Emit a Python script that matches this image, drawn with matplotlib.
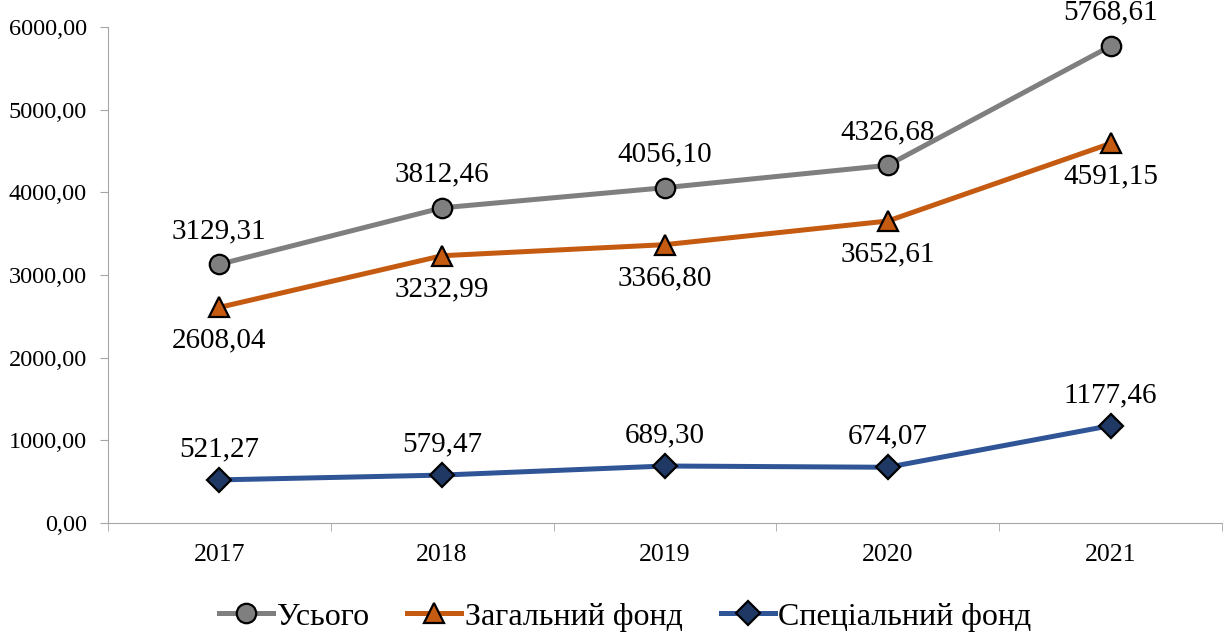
import numpy as np
import matplotlib.pyplot as plt

years = ['2017', '2018', '2019', '2020', '2021']
total = [3129.31, 3812.46, 4056.10, 4326.68, 5768.61]
general = [2608.04, 3232.99, 3366.80, 3652.61, 4591.15]
special = [521.27, 579.47, 689.30, 674.07, 1177.46]

plt.rcParams['font.family'] = ['Liberation Serif', 'DejaVu Serif']

def fmt(v):
    return f"{v:.2f}".replace('.', ',')

fig = plt.figure(figsize=(12.26, 6.35), dpi=100)
ax = fig.add_axes([0.088, 0.1764, 0.9087, 0.7811])

x = np.arange(len(years))
ax.plot(x, total, '-o', color='#7F7F7F', lw=3.6, ms=14, mfc='#7F7F7F',
        mec='black', mew=1.6, label='Усього', zorder=3)
ax.plot(x, general, '-^', color='#C55A11', lw=3.6, ms=15, mfc='#C55A11',
        mec='black', mew=1.6, label='Загальний фонд', zorder=3)
ax.plot(x, special, '-D', color='#2F5597', lw=3.6, ms=12.5, mfc='#1F3864',
        mec='black', mew=1.6, label='Спеціальний фонд', zorder=3)

# підписи значень
for i in range(len(years)):
    ax.annotate(fmt(total[i]), (x[i], total[i]), xytext=(0, 24), textcoords='offset points',
                ha='center', va='center', fontsize=21)
    ax.annotate(fmt(general[i]), (x[i], general[i]), xytext=(0, -24), textcoords='offset points',
                ha='center', va='center', fontsize=21)
    ax.annotate(fmt(special[i]), (x[i], special[i]), xytext=(0, 22), textcoords='offset points',
                ha='center', va='center', fontsize=21)

ax.set_xlim(-0.5, 4.5)
ax.set_ylim(0, 6000)
ax.set_yticks(np.arange(0, 6001, 1000))
ax.set_yticklabels([fmt(v) for v in np.arange(0, 6001, 1000)], fontsize=17.5)
ax.set_xticks(x)
ax.set_xticklabels(years, fontsize=18.5)
ax.set_xticks(np.arange(-0.5, 4.6, 1), minor=True)
ax.tick_params(axis='x', which='major', length=0, pad=15)
ax.tick_params(axis='x', which='minor', length=6, color='#A6A6A6')
ax.tick_params(axis='y', length=6, color='#A6A6A6', pad=9)

for s in ['top', 'right']:
    ax.spines[s].set_visible(False)
ax.spines['left'].set_color('#A6A6A6')
ax.spines['bottom'].set_color('#A6A6A6')

fig.legend(loc='lower center', bbox_to_anchor=(0.51, -0.04), ncol=3, frameon=False,
           fontsize=23, handlelength=1.7, handletextpad=0.1, columnspacing=1.2)

fig.savefig('out.png', dpi=100)
